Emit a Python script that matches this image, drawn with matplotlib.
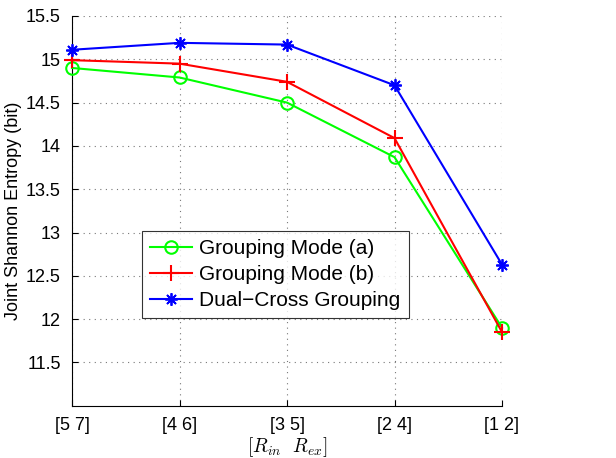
import matplotlib
matplotlib.use("Agg")
import matplotlib.pyplot as plt

categories = ["[5 7]", "[4 6]", "[3 5]", "[2 4]", "[1 2]"]
mode_a = [14.90, 14.79, 14.50, 13.87, 11.90]
mode_b = [14.99, 14.95, 14.74, 14.09, 11.85]
dual_cross = [15.11, 15.19, 15.17, 14.70, 12.63]
yticks = [11.5, 12, 12.5, 13, 13.5, 14, 14.5, 15, 15.5]
ytick_labels = ["11.5", "12", "12.5", "13", "13.5", "14", "14.5", "15", "15.5"]

plt.rcParams['font.family'] = ['Liberation Sans', 'DejaVu Sans']
plt.rcParams['mathtext.fontset'] = 'cm'

fig = plt.figure(figsize=(6.16, 4.58), dpi=100)
ax = fig.add_axes([72/616, 1-405.7/458, 430/616, 389.7/458])

x = list(range(1, len(categories) + 1))
ax.plot(x, mode_a, color='#00ff00', lw=1.5, marker='o', ms=9, mfc='none', mec='#00ff00', mew=1.5,
        label='Grouping Mode (a)', clip_on=False, zorder=3)
ax.plot(x, mode_b, color='#ff0000', lw=1.5, marker='+', ms=12, mew=1.5,
        label='Grouping Mode (b)', clip_on=False, zorder=3)
ax.plot(x, dual_cross, color='#0000ff', lw=1.5, marker=(8, 2, 0), ms=9, mew=1.3,
        label='Dual\u2212Cross Grouping', clip_on=False, zorder=3)

ax.set_xlim(1, 5)
ax.set_ylim(11, 15.5)
ax.set_xticks(x)
ax.set_xticklabels(categories)
ax.set_yticks(yticks)
ax.set_yticklabels(ytick_labels)
ax.tick_params(direction='in', length=4, labelsize=13, width=0.8, pad=8)
ax.grid(True, linestyle=(0, (1, 4)), color='#777777', lw=0.8)
ax.spines['top'].set_visible(False)
ax.spines['right'].set_visible(False)
ax.set_xlabel(r'$[R_{in}\ \ R_{ex}]$', fontsize=14, labelpad=1)
ax.set_ylabel('Joint Shannon Entropy (bit)', fontsize=13, labelpad=3)

leg = ax.legend(loc='upper left', bbox_to_anchor=(142/616, 1-231/458), bbox_transform=fig.transFigure,
                fontsize=15, frameon=True, fancybox=False, edgecolor='black', handlelength=2.0,
                borderpad=0.4, labelspacing=0.33, handletextpad=0.35, borderaxespad=0)
leg.get_frame().set_linewidth(0.8)

fig.savefig('out.png', dpi=100)
